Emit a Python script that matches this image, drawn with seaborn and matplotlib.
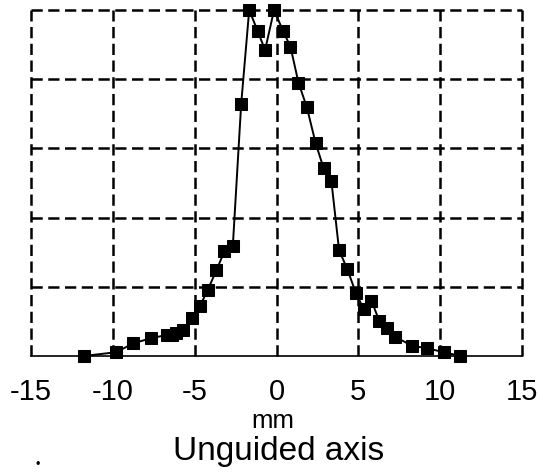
import matplotlib
matplotlib.use("Agg")
import matplotlib.pyplot as plt
import seaborn as sns
import pandas as pd

position_mm = [-11.76, -9.78, -8.74, -7.67, -6.69, -6.39, -6.14, -5.74, -5.19, -4.67,
               -4.2, -3.67, -3.18, -2.67, -2.16, -1.67, -1.16, -0.7, -0.15, 0.39,
               0.85, 1.34, 1.85, 2.39, 2.88, 3.35, 3.82, 4.33, 4.84, 5.33,
               5.80, 6.27, 6.76, 7.23, 8.25, 9.2, 10.23, 11.2]
intensity = [0.0, 0.011, 0.037, 0.051, 0.061, 0.061, 0.066, 0.075, 0.109, 0.145,
             0.191, 0.248, 0.303, 0.318, 0.728, 1.0, 0.94, 0.884, 1.0, 0.94,
             0.894, 0.79, 0.719, 0.615, 0.542, 0.506, 0.306, 0.25, 0.183, 0.135,
             0.16, 0.102, 0.08, 0.056, 0.03, 0.022, 0.011, 0.0]
x_ticks = [-15, -10, -5, 0, 5, 10, 15]
y_grid = [0.2, 0.4, 0.6, 0.8, 1.0]

df = pd.DataFrame({"mm": position_mm, "I": intensity})

sns.set_style("white")
plt.rcParams['font.family'] = ['Liberation Sans', 'DejaVu Sans']
plt.rcParams['text.color'] = 'black'
plt.rcParams['xtick.color'] = 'black'
plt.rcParams['xtick.labelcolor'] = 'black'

fig = plt.figure(figsize=(5.41, 4.74), dpi=100)
ax = fig.add_axes([0.0573, 0.249, 0.9077, 0.730])

dash = (0, (4.5, 2.2))
for xv in x_ticks:
    ax.axvline(xv, color="black", lw=1.8, ls=dash, clip_on=False, zorder=1)
for yv in y_grid:
    ax.axhline(yv, color="black", lw=1.8, ls=dash, clip_on=False, zorder=1)

sns.lineplot(data=df, x="mm", y="I", ax=ax, color="black", lw=1.4,
             marker="s", markersize=8, markeredgecolor="black",
             markerfacecolor="black", sort=False, zorder=3, clip_on=False)

ax.set_xlim(-15, 15)
ax.set_ylim(0, 1.0)
ax.set_xticks(x_ticks)
ax.set_xticklabels([str(t) for t in x_ticks], fontsize=21, color="black")
ax.set_yticks([])
ax.tick_params(axis="x", length=5, width=1.2, color="black", labelcolor="black",
               pad=11, direction="out")
for s in ["top", "right", "left"]:
    ax.spines[s].set_visible(False)
ax.spines["bottom"].set_color("black")
ax.spines["bottom"].set_linewidth(1.2)
ax.set_xlabel("")
ax.set_ylabel("")

fig.text(0.505, 0.097, "mm", ha="center", va="baseline", fontsize=18.5, color="black")
fig.text(0.515, 0.030, "Unguided axis", ha="center", va="baseline", fontsize=24, color="black")
fig.text(0.070, 0.018, "•", ha="center", va="center", fontsize=9, color="black")

fig.savefig("out.png", dpi=100)
